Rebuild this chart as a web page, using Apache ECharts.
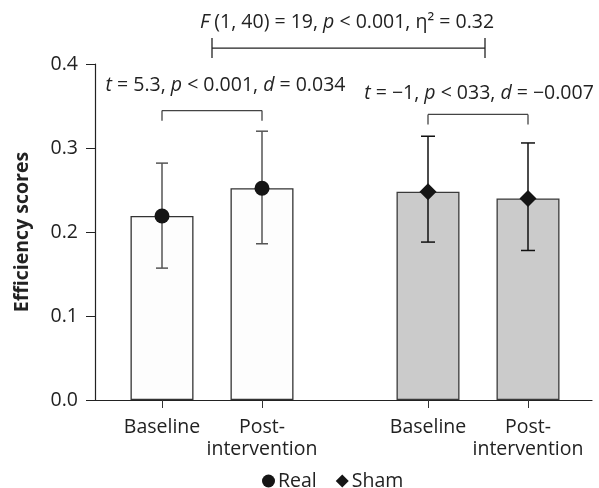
<!DOCTYPE html>
<html>
<head>
<meta charset="utf-8">
<script src="https://cdn.jsdelivr.net/npm/echarts@6/dist/echarts.min.js"></script>
<style>html,body{margin:0;padding:0;background:#fff}#c{width:599px;height:488px}</style>
</head>
<body>
<div id="c"></div>
<script>
// ---- data ----
const categories = ['Baseline', 'Post-\nintervention', 'Baseline', 'Post-\nintervention'];
const xPositions = [1, 2, 3.66, 4.66];
const groups = ['Real', 'Sham'];
const realMeans = [0.219, 0.252];
const realLow = [0.157, 0.186];
const realHigh = [0.282, 0.320];
const shamMeans = [0.248, 0.240];
const shamLow = [0.188, 0.178];
const shamHigh = [0.314, 0.306];
const yTicks = [0, 0.1, 0.2, 0.3, 0.4];
const statTexts = [
  '{i|F} (1, 40) = 19, {i|p} < 0.001, η² = 0.32',
  '{i|t} = 5.3, {i|p} < 0.001, {i|d} = 0.034',
  '{i|t} = −1, {i|p} < 033, {i|d} = −0.007'
];

// ---- layout (annotation geometry, in data units) ----
const bracketDefs = [
  { x1: 1.5, x2: 4.23, y: 0.419, top: 0.431, bottom: 0.407, color: '#222' },
  { x1: 1, x2: 2, y: 0.3445, top: 0.3445, bottom: 0.3325, color: '#444' },
  { x1: 3.66, x2: 4.66, y: 0.340, top: 0.340, bottom: 0.328, color: '#444' }
];
const textDefs = [
  { x: 2.85, y: 0.450 },
  { x: 1.635, y: 0.375 },
  { x: 4.17, y: 0.3655 }
];

const FONT = 'Open Sans';
const FS = 19.5;
const realIdx = [0, 1], shamIdx = [2, 3];
const barData = [];
const errData = [];
realIdx.forEach((ci, k) => {
  barData.push({ value: [xPositions[ci], realMeans[k]], itemStyle: { color: '#fdfdfd', borderColor: '#333', borderWidth: 1.3 } });
  errData.push([xPositions[ci], realLow[k], realHigh[k], 0]);
});
shamIdx.forEach((ci, k) => {
  barData.push({ value: [xPositions[ci], shamMeans[k]], itemStyle: { color: '#cbcbcb', borderColor: '#3a3a3a', borderWidth: 1.3 } });
  errData.push([xPositions[ci], shamLow[k], shamHigh[k], 1]);
});

const chart = echarts.init(document.getElementById('c'), null, { renderer: 'canvas' });
const rich = {
  i: { fontStyle: 'italic', fontFamily: FONT, fontSize: FS, color: '#222' }
};

chart.setOption({
  animation: false,
  backgroundColor: '#fff',
  grid: { left: 95, right: 7, top: 64, bottom: 88, containLabel: false },
  textStyle: { fontFamily: FONT },
  legend: {
    data: [{ name: 'Real', icon: 'circle' }, { name: 'Sham', icon: 'diamond' }],
    top: 471,
    left: 262,
    padding: 0,
    itemWidth: 13,
    itemHeight: 13,
    itemGap: 19,
    textStyle: { fontFamily: FONT, fontSize: FS, color: '#222', padding: [0, 0, 0, -2] }
  },
  xAxis: {
    type: 'value',
    min: 0.33,
    max: 5.3,
    splitLine: { show: false },
    axisLine: { show: true, onZero: false, lineStyle: { color: '#222', width: 1.2 } },
    axisTick: { show: true, customValues: xPositions, length: 8, lineStyle: { color: '#333' } },
    axisLabel: {
      customValues: xPositions,
      formatter: (v) => { const i = xPositions.findIndex(p => Math.abs(p - v) < 1e-6); return i >= 0 ? categories[i] : ''; },
      fontFamily: FONT, fontSize: FS, color: '#222', lineHeight: 22, margin: 16
    }
  },
  yAxis: {
    type: 'value',
    min: 0, max: 0.4, interval: 0.1,
    name: 'Efficiency scores',
    nameLocation: 'middle',
    nameGap: 63,
    nameTextStyle: { fontFamily: FONT, fontSize: FS, fontWeight: 'bold', color: '#222' },
    splitLine: { show: false },
    axisLine: { show: true, lineStyle: { color: '#222', width: 1.2 } },
    axisTick: { show: true, length: 9, lineStyle: { color: '#222' } },
    axisLabel: {
      formatter: (v) => yTicks.some(t => Math.abs(t - v) < 1e-9) ? v.toFixed(1) : '',
      fontFamily: FONT, fontSize: FS, color: '#222', margin: 17
    }
  },
  series: [
    {
      type: 'bar',
      data: barData,
      barWidth: 63,
      z: 2,
      silent: true
    },
    {
      type: 'custom',
      z: 3,
      silent: true,
      data: errData,
      renderItem: (params, api) => {
        const x = api.value(0);
        const lo = api.coord([x, api.value(1)]);
        const hi = api.coord([x, api.value(2)]);
        const sham = api.value(3) === 1;
        const w = sham ? 7 : 6;
        const col = sham ? '#111' : '#555';
        const st = { stroke: col, lineWidth: 1.5 };
        return {
          type: 'group',
          children: [
            { type: 'line', shape: { x1: lo[0], y1: lo[1], x2: hi[0], y2: hi[1] }, style: st },
            { type: 'line', shape: { x1: hi[0] - w, y1: hi[1], x2: hi[0] + w, y2: hi[1] }, style: st },
            { type: 'line', shape: { x1: lo[0] - w, y1: lo[1], x2: lo[0] + w, y2: lo[1] }, style: st }
          ]
        };
      }
    },
    {
      name: 'Real',
      type: 'scatter',
      symbol: 'circle',
      symbolSize: 15,
      z: 4,
      itemStyle: { color: '#151515', opacity: 1 },
      data: realIdx.map((ci, k) => [xPositions[ci], realMeans[k]])
    },
    {
      name: 'Sham',
      type: 'scatter',
      symbol: 'diamond',
      symbolSize: [17, 17],
      z: 4,
      itemStyle: { color: '#151515', opacity: 1 },
      data: shamIdx.map((ci, k) => [xPositions[ci], shamMeans[k]])
    },
    {
      type: 'custom',
      z: 5,
      silent: true,
      clip: false,
      data: bracketDefs.map(b => [b.x1, b.x2, b.y, b.top, b.bottom]),
      renderItem: (params, api) => {
        const b = bracketDefs[params.dataIndex];
        const pL = api.coord([b.x1, b.y]);
        const pR = api.coord([b.x2, b.y]);
        const tL = api.coord([b.x1, b.top]);
        const bL = api.coord([b.x1, b.bottom]);
        const tR = api.coord([b.x2, b.top]);
        const bR = api.coord([b.x2, b.bottom]);
        const st = { stroke: b.color, lineWidth: 1.3 };
        return {
          type: 'group',
          children: [
            { type: 'line', shape: { x1: pL[0], y1: pL[1], x2: pR[0], y2: pR[1] }, style: st },
            { type: 'line', shape: { x1: tL[0], y1: tL[1], x2: bL[0], y2: bL[1] }, style: st },
            { type: 'line', shape: { x1: tR[0], y1: tR[1], x2: bR[0], y2: bR[1] }, style: st }
          ]
        };
      }
    },
    {
      type: 'custom',
      z: 6,
      silent: true,
      clip: false,
      data: textDefs.map(t => [t.x, t.y]),
      renderItem: (params, api) => {
        const p = api.coord([api.value(0), api.value(1)]);
        return {
          type: 'text',
          x: p[0], y: p[1],
          style: {
            text: statTexts[params.dataIndex],
            rich: rich,
            fontFamily: FONT, fontSize: FS, fill: '#222',
            align: 'center', verticalAlign: 'middle'
          }
        };
      }
    }
  ]
});
</script>
</body>
</html>
